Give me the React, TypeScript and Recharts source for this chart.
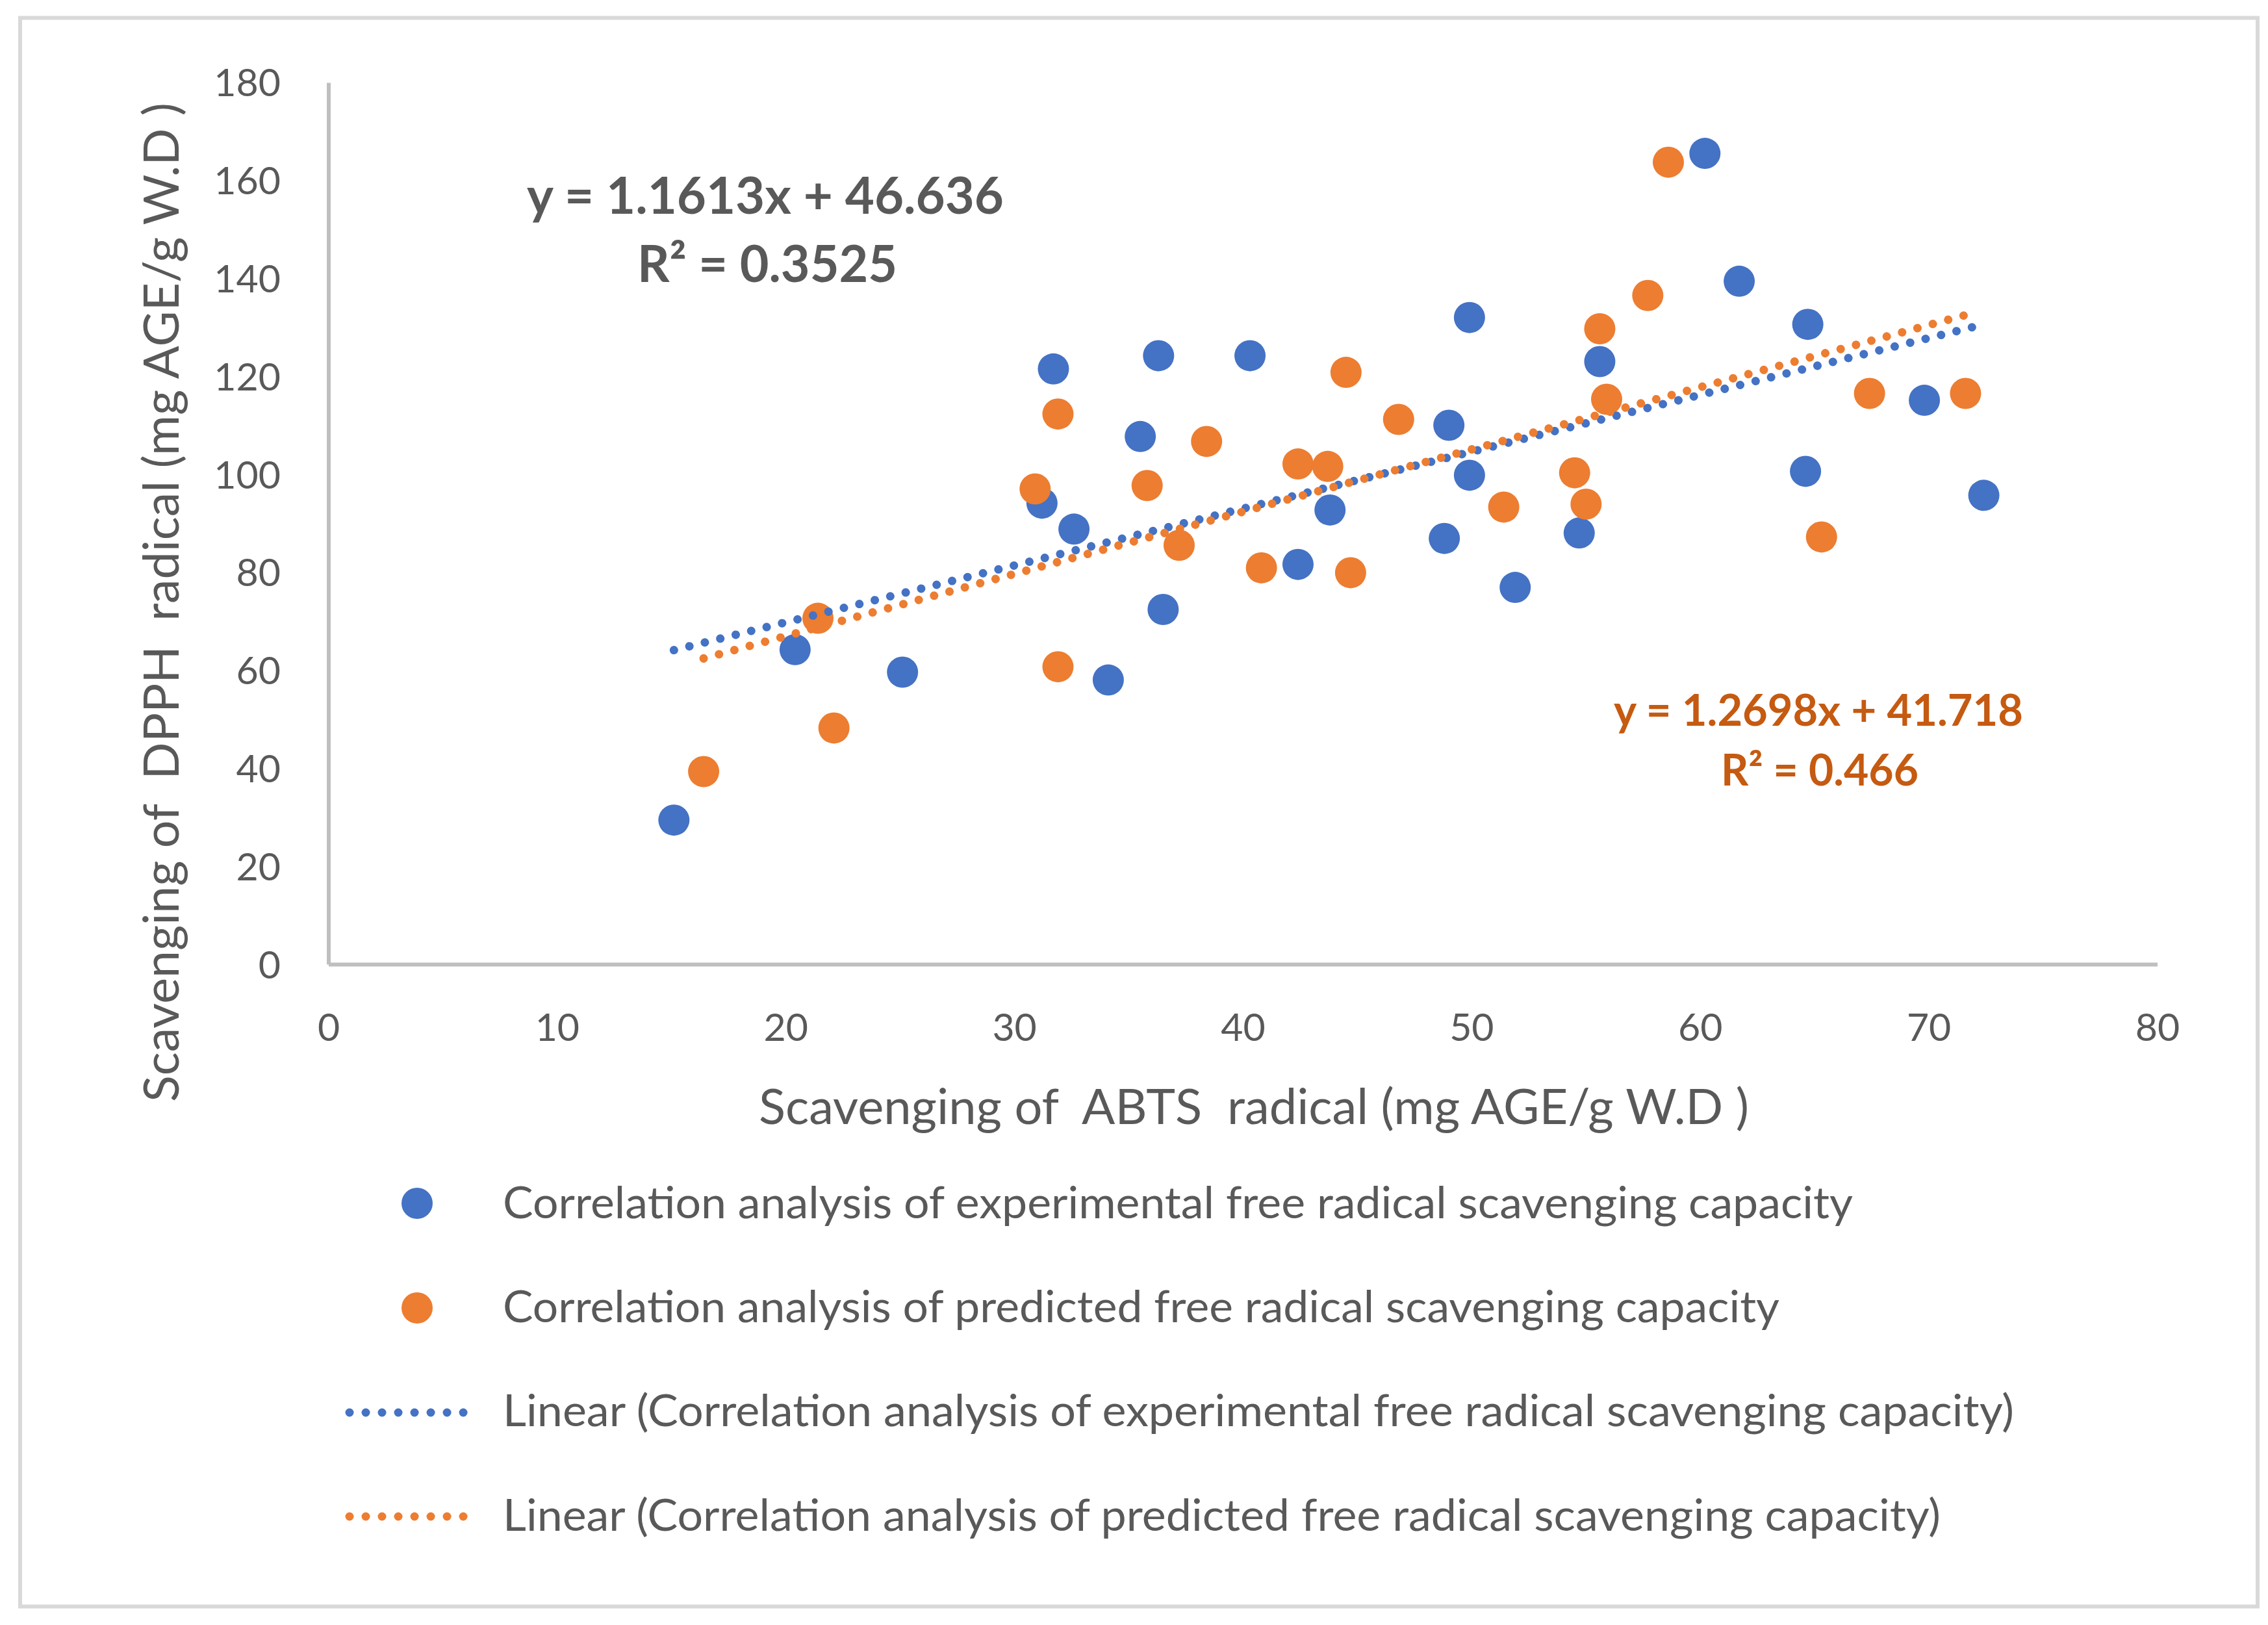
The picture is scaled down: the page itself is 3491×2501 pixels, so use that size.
import React from 'react';
import { ScatterChart, Scatter, XAxis, YAxis } from 'recharts';

// values
const expAbts = [15.1, 20.4, 25.1, 31.2, 31.7, 32.6, 34.1, 35.5, 36.3, 36.5, 40.3, 42.4, 43.8, 48.8, 49.0, 49.9, 49.9, 51.9, 54.7, 55.6, 60.2, 61.7, 64.6, 64.7, 69.8, 72.4];
const expDpph = [29.5, 64.3, 59.7, 94.2, 121.6, 88.9, 58.1, 107.8, 124.3, 72.5, 124.3, 81.7, 92.8, 87.0, 110.1, 132.1, 99.9, 77.0, 88.1, 123.1, 165.6, 139.5, 100.7, 130.7, 115.2, 95.8];

const predAbts = [16.4, 21.4, 22.1, 30.9, 31.9, 31.9, 35.8, 37.2, 38.4, 40.8, 42.4, 43.7, 44.5, 44.7, 46.8, 51.4, 54.5, 55.0, 55.6, 55.9, 57.7, 58.6, 65.3, 67.4, 71.6];
const predDpph = [39.4, 70.7, 48.3, 97.1, 112.4, 60.8, 97.8, 85.6, 106.8, 81.0, 102.2, 101.7, 120.9, 80.0, 111.3, 93.4, 100.4, 94.0, 129.8, 115.4, 136.6, 163.8, 87.3, 116.6, 116.6];

// trendline end points (y = 1.1613x + 46.636 and y = 1.2698x + 41.718)
const expTrendAbts = [15.1, 72.4];
const expTrendDpph = [64.2, 130.7];
const predTrendAbts = [16.4, 71.6];
const predTrendDpph = [62.5, 132.6];

const xTicks = [0, 10, 20, 30, 40, 50, 60, 70, 80];
const yTicks = [0, 20, 40, 60, 80, 100, 120, 140, 160, 180];

const expName = 'Correlation analysis of experimental free radical scavenging capacity';
const predName = 'Correlation analysis of predicted free radical scavenging capacity';
const expEq = ['y = 1.1613x + 46.636', 'R² = 0.3525'];
const predEq = ['y = 1.2698x + 41.718', 'R² = 0.466'];
const xTitle = 'Scavenging of  ABTS  radical (mg AGE/g W.D )';
const yTitle = 'Scavenging of  DPPH  radical (mg AGE/g W.D )';

const zip = (xs: number[], ys: number[]) => xs.map((x, i) => ({ x, y: ys[i] }));

const BLUE = '#4472C4';
const ORANGE = '#ED7D31';
const TEXT = '#595959';
const FONT = 'Lato, "Open Sans", sans-serif';

const dotted = { strokeWidth: 13, strokeDasharray: '0.01 24.5', strokeLinecap: 'round' as const };

const marker = (color: string) => (props: any) => (
  <circle cx={props.cx} cy={props.cy} r={24} fill={color} />
);
const noMarker = () => <g />;

export default function App() {
  return (
    <div style={{ position: 'absolute', left: 0, top: 0, width: 3491, height: 2501, background: '#fff' }}>
      <ScatterChart width={3491} height={2501} margin={{ top: 127.5, right: 170, left: 406, bottom: 896.4 }}>
        <XAxis
          type="number"
          dataKey="x"
          domain={[0, 80]}
          ticks={xTicks}
          interval={0}
          height={120}
          tickLine={false}
          tickSize={0}
          tickMargin={76}
          axisLine={{ stroke: '#BFBFBF', strokeWidth: 6 }}
          tick={{ fill: TEXT, fontSize: 59, fontFamily: FONT }}
        />
        <YAxis
          type="number"
          dataKey="y"
          domain={[0, 180]}
          ticks={yTicks}
          interval={0}
          width={100}
          tickLine={false}
          tickSize={0}
          tickMargin={74}
          axisLine={{ stroke: '#BFBFBF', strokeWidth: 6 }}
          tick={{ fill: TEXT, fontSize: 59, fontFamily: FONT }}
        />
        <Scatter name={expName} data={zip(expAbts, expDpph)} fill={BLUE} shape={marker(BLUE)} isAnimationActive={false} />
        <Scatter name={predName} data={zip(predAbts, predDpph)} fill={ORANGE} shape={marker(ORANGE)} isAnimationActive={false} />
        <Scatter
          data={zip(expTrendAbts, expTrendDpph)}
          line={{ stroke: BLUE, ...dotted }}
          shape={noMarker}
          isAnimationActive={false}
        />
        <Scatter
          data={zip(predTrendAbts, predTrendDpph)}
          line={{ stroke: ORANGE, ...dotted }}
          shape={noMarker}
          isAnimationActive={false}
        />
      </ScatterChart>

      <svg width={3491} height={2501} style={{ position: 'absolute', left: 0, top: 0, pointerEvents: 'none' }}>
        <rect x={31} y={27.5} width={3444} height={2445} fill="none" stroke="#D9D9D9" strokeWidth={6} />

        {/* trendline equations */}
        <g fontFamily={FONT} fontWeight="bold" textAnchor="middle">
          <text x={1178} y={329} fontSize={78} fill={TEXT} textLength={734} lengthAdjust="spacingAndGlyphs">{expEq[0]}</text>
          <text x={1181} y={434} fontSize={78} fill={TEXT} textLength={400} lengthAdjust="spacingAndGlyphs">{expEq[1]}</text>
          <text x={2799} y={1117} fontSize={66} fill="#C55A11" textLength={630} lengthAdjust="spacingAndGlyphs">{predEq[0]}</text>
          <text x={2801} y={1209} fontSize={66} fill="#C55A11" textLength={304} lengthAdjust="spacingAndGlyphs">{predEq[1]}</text>
        </g>

        {/* axis titles */}
        <g fontFamily={FONT} fill={TEXT}>
          <text x={1930} y={1730} fontSize={75} textAnchor="middle" textLength={1524} lengthAdjust="spacingAndGlyphs" xmlSpace="preserve" style={{ whiteSpace: 'pre' }}>
            {xTitle}
          </text>
          <text transform="rotate(-90)" x={-927} y={275} fontSize={75} textAnchor="middle" textLength={1538} lengthAdjust="spacingAndGlyphs" xmlSpace="preserve" style={{ whiteSpace: 'pre' }}>
            {yTitle}
          </text>
        </g>

        {/* legend */}
        <g fontFamily={FONT} fill={TEXT} fontSize={68}>
          <circle cx={642} cy={1852} r={24} fill={BLUE} />
          <text x={774} y={1875} textLength={2078} lengthAdjust="spacingAndGlyphs">{expName}</text>
          <circle cx={642} cy={2013} r={24} fill={ORANGE} />
          <text x={774} y={2035} textLength={1965} lengthAdjust="spacingAndGlyphs">{predName}</text>
          <line x1={538} y1={2174} x2={738} y2={2174} stroke={BLUE} {...dotted} strokeDasharray="0.01 25" />
          <text x={774} y={2195} textLength={2326} lengthAdjust="spacingAndGlyphs">{`Linear (${expName})`}</text>
          <line x1={538} y1={2334} x2={738} y2={2334} stroke={ORANGE} {...dotted} strokeDasharray="0.01 25" />
          <text x={774} y={2356} textLength={2213} lengthAdjust="spacingAndGlyphs">{`Linear (${predName})`}</text>
        </g>
      </svg>
    </div>
  );
}
